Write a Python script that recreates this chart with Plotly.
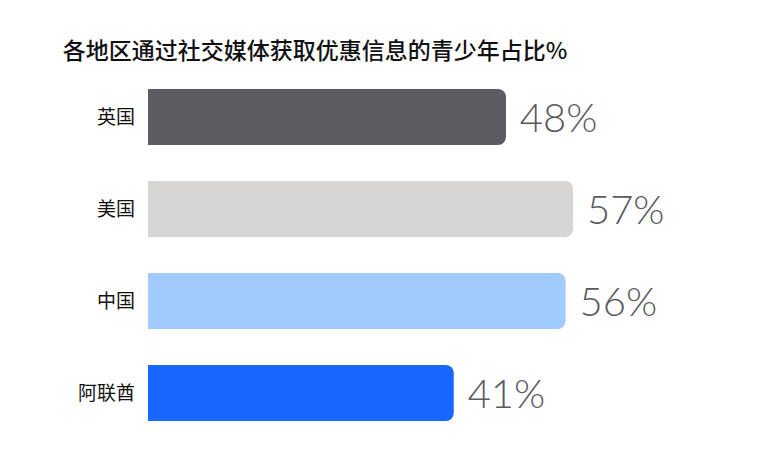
import plotly.graph_objects as go

regions = ["英国", "美国", "中国", "阿联酋"]
shares = [48, 57, 56, 41]
labels = ["48%", "57%", "56%", "41%"]
colors = ["#5d5c62", "#d8d5d5", "#a1cbfd", "#1868ff"]

fig = go.Figure(go.Bar(
    x=shares,
    y=regions,
    orientation="h",
    marker=dict(color=colors, line=dict(width=0)),
    width=0.61,
    text=[" " + t for t in labels],
    textposition="outside",
    textfont=dict(size=40, color="#5a5a5e", family="Lato, Noto Sans", weight=300),
    cliponaxis=False,
))

fig.update_layout(
    width=759, height=451,
    margin=dict(l=140, r=0, t=63, b=20, autoexpand=False),
    plot_bgcolor="white", paper_bgcolor="white",
    barcornerradius=8,
    showlegend=False,
    title=dict(text="各地区通过社交媒体获取优惠信息的青少年占比%", x=0.072, xanchor="left",
               y=0.905, yanchor="middle",
               font=dict(size=23, color="#111111", family="Noto Sans CJK SC", weight=500)),
    xaxis=dict(range=[0, 83], visible=False, automargin=False),
    yaxis=dict(autorange="reversed", showgrid=False, zeroline=False, ticks="",
               automargin=False, ticklabelstandoff=12,
               tickfont=dict(size=19, color="#111111", family="Noto Sans CJK SC")),
)

fig.write_html("out.html")
